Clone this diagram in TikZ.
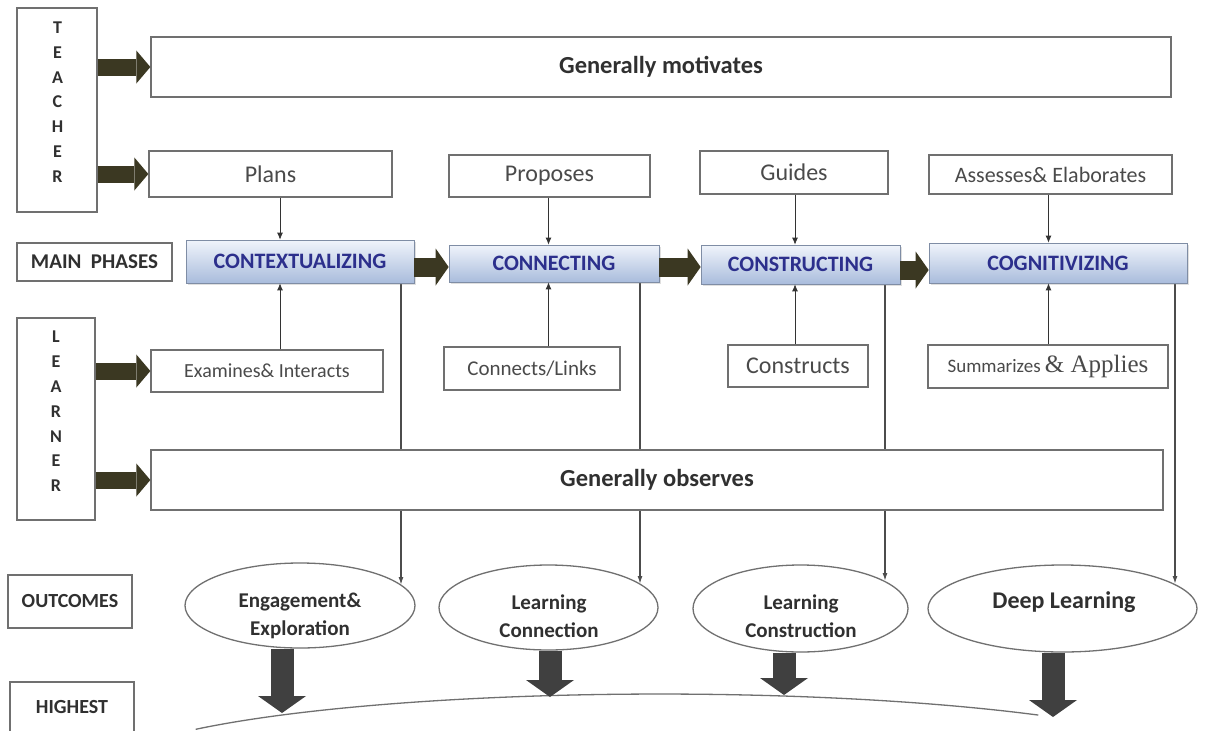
\documentclass[tikz,border=0pt]{standalone}
\usepackage{fontspec}
\setmainfont{Carlito}
\newfontfamily\tnr{Liberation Serif}
\usetikzlibrary{arrows.meta,shapes.geometric,shadows}
\definecolor{olivearr}{HTML}{3B3822}
\definecolor{darkarr}{HTML}{404040}
\definecolor{boxline}{HTML}{707070}
\definecolor{txtgray}{HTML}{4A4A4A}
\definecolor{txtdark}{HTML}{303030}
\definecolor{phasetxt}{HTML}{2C2F8C}
\definecolor{phtop}{HTML}{F0F4FB}
\definecolor{phbot}{HTML}{A9BCDC}
\newcommand\myfs[1]{\fontsize{#1}{#1}\selectfont}
\pgfdeclarelayer{back}
\pgfdeclarelayer{paper}
\pgfsetlayers{paper,back,main}
\begin{document}
\begin{tikzpicture}[x=1pt,y=-1pt,
  box/.style={draw=boxline,line width=1.3pt,fill=white,inner sep=0pt,text=txtgray,font=\myfs{24}},
  lbl/.style={box,text=txtdark,font=\bfseries\myfs{20}},
  phase/.style={draw=phbot!75!black,line width=0.7pt,top color=phtop,bottom color=phbot,inner sep=0pt,text=phasetxt,font=\bfseries\myfs{22},drop shadow={opacity=0.25,shadow xshift=1.5pt,shadow yshift=-1.5pt}},
  oval/.style={ellipse,draw=boxline,line width=1.3pt,fill=white,inner sep=0pt},
  otext/.style={text=txtdark,font=\bfseries\fontsize{21}{28}\selectfont,align=center,inner sep=0pt},
  vletters/.style={text=txtdark,font=\bfseries\fontsize{18}{24.8}\selectfont,align=center,inner sep=0pt},
  fatarr/.style={draw=olivearr,line width=17pt,-{Triangle[length=14pt,width=33pt,line width=0pt]}},
  phasearr/.style={draw=olivearr,line width=19pt,-{Triangle[length=13pt,width=37pt,line width=0pt]}},
  downarr/.style={draw=darkarr,line width=23pt,-{Triangle[length=17pt,width=48pt,line width=0pt]}},
  thinarr/.style={draw=black!80,line width=0.8pt,-{Latex[length=7pt,width=6pt]}},
  outarr/.style={draw=black!70,line width=1.4pt,-{Latex[length=8pt,width=5pt]}},
  curveline/.style={draw=boxline,line width=1.3pt}
]
\useasboundingbox (0,0) rectangle (1205,731);
\begin{pgfonlayer}{paper}
\fill[white] (0,0) rectangle (1205,731);
\end{pgfonlayer}

% teacher row
\node[box, minimum width=80, minimum height=204] (teacher) at (57,110) {};
\node[vletters] (teacherl) at (57.5,102) {T\\E\\A\\C\\H\\E\\R};
\node[box, font=\bfseries\myfs{24.5}, text=txtdark, minimum width=1020, minimum height=60] (gm) at (661,67) {Generally motivates};
\node[box, minimum width=243, minimum height=46] (plans) at (270.5,174) {Plans};
\node[box, minimum width=201, minimum height=42] (proposes) at (549.5,176) {Proposes};
\node[box, minimum width=188, minimum height=43] (guides) at (794,172.5) {Guides};
\node[box, font=\myfs{22}, minimum width=243, minimum height=39] (assess) at (1050.5,174.5) {Assesses\& Elaborates};

% main phases
\node[lbl, font=\bfseries\myfs{21}, minimum width=155, minimum height=38] (mainph) at (94.5,262) {MAIN\ \ PHASES};
\node[phase, minimum width=228, minimum height=43] (ctx) at (300,261.5) {CONTEXTUALIZING};
\node[phase, minimum width=210, minimum height=37] (con) at (554,263.5) {CONNECTING};
\node[phase, minimum width=199, minimum height=39] (cst) at (800.5,264.5) {CONSTRUCTING};
\node[phase, minimum width=258, minimum height=40] (cog) at (1058,263) {COGNITIVIZING};

% learner row
\node[box, minimum width=78, minimum height=202] (learner) at (56,419) {};
\node[vletters] (learnerl) at (56,411.5) {L\\E\\A\\R\\N\\E\\R};
\node[box, font=\myfs{20}, minimum width=232, minimum height=42] (exam) at (267,371) {Examines\& Interacts};
\node[box, font=\myfs{21}, minimum width=176, minimum height=43] (links) at (532,368.5) {Connects/Links};
\node[box, minimum width=140, minimum height=42] (constr) at (798,366) {Constructs};
\node[box, font=\myfs{19}, minimum width=240, minimum height=43] (summ) at (1048,366.5) {Summarizes {\tnr\myfs{25}\& Applies}};
\node[box, font=\bfseries\myfs{24.5}, text=txtdark, minimum width=1012, minimum height=60] (go) at (657,480) {Generally observes};

% outcomes
\node[lbl, minimum width=124, minimum height=53] (outc) at (70,601.5) {OUTCOMES};
\node[lbl, minimum width=124, minimum height=50] (high) at (72,707) {HIGHEST};
\node[oval, minimum width=230, minimum height=85] (e1) at (300,605.5) {};
\node[oval, minimum width=219, minimum height=85] (e2) at (548.5,607.5) {};
\node[oval, minimum width=215, minimum height=87] (e3) at (800.5,608.5) {};
\node[oval, minimum width=269, minimum height=87] (e4) at (1062.5,608.5) {};
\node[otext] (e1t) at (300,616) {Engagement\&\\Exploration};
\node[otext] (e2t) at (549,616) {Learning\\Connection};
\node[otext] (e3t) at (801,616) {Learning\\Construction};
\node[otext, font=\bfseries\myfs{24}] (e4t) at (1064,602) {Deep Learning};

% fat olive arrows
\draw[fatarr] (teacher.east |- gm) -- (gm.west);
\draw[fatarr] (teacher.east |- plans) -- (plans.west);
\draw[fatarr] (learner.east |- exam) -- (exam.west);
\draw[fatarr] (learner.east |- go) -- (go.west);
\draw[phasearr] (ctx.east |- 0,267) -- (con.west |- 0,267);
\draw[phasearr] (con.east |- 0,267) -- (cst.west |- 0,267);
\draw[phasearr] (cst.east |- 0,270) -- (cog.west |- 0,270);

% thin arrows
\coordinate (k1) at (280,0);
\coordinate (k2) at (548.5,0);
\coordinate (k3) at (795,0);
\coordinate (k4) at (1048.5,0);
\draw[thinarr] (plans.south -| k1) -- (ctx.north -| k1);
\draw[thinarr] (proposes.south -| k2) -- (con.north -| k2);
\draw[thinarr] (guides.south -| k3) -- (cst.north -| k3);
\draw[thinarr] (assess.south -| k4) -- (cog.north -| k4);
\draw[thinarr] (exam.north -| k1) -- (ctx.south -| k1);
\draw[thinarr] (links.north -| k2) -- (con.south -| k2);
\draw[thinarr] (constr.north -| k3) -- (cst.south -| k3);
\draw[thinarr] (summ.north -| k4) -- (cog.south -| k4);

% lines to outcomes (behind boxes)
\coordinate (o1) at (401,585);
\coordinate (o2) at (640,584);
\coordinate (o3) at (885,581);
\coordinate (o4) at (1175,584);
\begin{pgfonlayer}{back}
\draw[outarr] (ctx.south -| o1) -- (o1);
\draw[outarr] (con.south -| o2) -- (o2);
\draw[outarr] (cst.south -| o3) -- (o3);
\draw[outarr] (cog.south -| o4) -- (o4);
\end{pgfonlayer}

% big curve and down arrows
\draw[curveline] (195.7,729.3) arc[start angle=214, end angle=312.5, x radius=560, y radius=80];
\coordinate (t1) at (282,713);
\coordinate (t2) at (550,697);
\coordinate (t3) at (784,695);
\coordinate (t4) at (1053,717);
\draw[downarr] (e1.south -| t1) -- (t1);
\draw[downarr] (e2.south -| t2) -- (t2);
\draw[downarr] (e3.south -| t3) -- (t3);
\draw[downarr] (e4.south -| t4) -- (t4);
\end{tikzpicture}
\end{document}
